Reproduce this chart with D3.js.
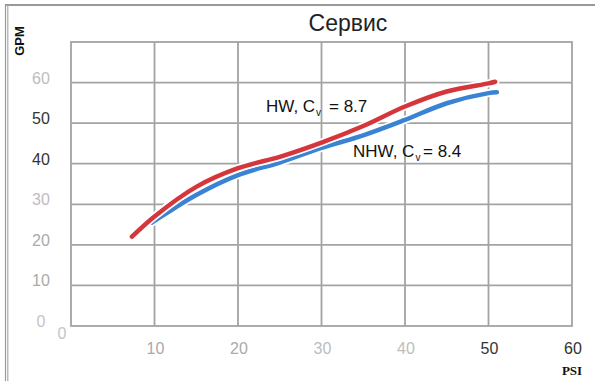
<!DOCTYPE html>
<html><head><meta charset="utf-8">
<script src="https://cdn.jsdelivr.net/npm/d3@7/dist/d3.min.js"></script>
<style>body{margin:0;background:#fff}svg{display:block}</style>
</head><body>
<svg id="c" width="595" height="381"></svg>
<script>
const title = "Сервис";
const xTicks = [0,10,20,30,40,50,60];
const yTicks = [0,10,20,30,40,50,60];
const xTickColors = ["#c4c4c4","#aaaaaa","#aaaaaa","#bdbdbd","#bdbdbd","#333333","#333333"];
const yTickColors = ["#c4c4c4","#aaaaaa","#aaaaaa","#bdbdbd","#333333","#333333","#bdbdbd"];
const hwPsi = [7.3, 10, 15, 20, 25, 30, 35, 40, 45, 50, 50.8];
const hwGpm = [22, 27, 34.3, 38.9, 41.7, 45.2, 49.3, 54.1, 57.8, 59.8, 60.2];
const nhwPsi = [9.7, 10, 15, 20, 25, 30, 35, 40, 45, 50, 51];
const nhwGpm = [25.5, 25.9, 32.3, 37.2, 40.3, 43.9, 47.0, 50.8, 54.9, 57.4, 57.6];

const svg = d3.select("#c");
const x = d3.scaleLinear().domain([0,60]).range([71,572]);
const y = d3.scaleLinear().domain([0,70]).range([326,42]);
const font = "'Liberation Sans', Arial, sans-serif";

// outer frame
svg.append("line").attr("x1",5).attr("x2",595).attr("y1",5).attr("y2",5).attr("stroke","#999").attr("stroke-width",2);
svg.append("line").attr("x1",5.5).attr("x2",5.5).attr("y1",5).attr("y2",381).attr("stroke","#999").attr("stroke-width",1.2);
svg.append("line").attr("x1",7.8).attr("x2",7.8).attr("y1",5).attr("y2",381).attr("stroke","#aaa").attr("stroke-width",1.2);

// grid
const g = svg.append("g");
g.selectAll("line.v").data(xTicks.slice(1,6)).join("line")
  .attr("x1",d=>x(d)).attr("x2",d=>x(d)).attr("y1",y(70)).attr("y2",y(0))
  .attr("stroke","#a3a3a3").attr("stroke-width",1.8);
g.selectAll("line.h").data(yTicks.slice(1)).join("line")
  .attr("x1",x(0)).attr("x2",x(60)).attr("y1",d=>y(d)).attr("y2",d=>y(d))
  .attr("stroke","#a3a3a3").attr("stroke-width",1.8);
g.append("rect").attr("x",x(0)).attr("y",y(70)).attr("width",x(60)-x(0)).attr("height",y(0)-y(70))
  .attr("fill","none").attr("stroke","#a3a3a3").attr("stroke-width",1.8);

// tick labels
svg.selectAll("text.yt").data(yTicks).join("text")
  .attr("x",41).attr("y",d=>y(d)+1).attr("text-anchor","middle")
  .attr("font-family",font).attr("font-size",16)
  .attr("fill",(d,i)=>yTickColors[i]).text(d=>d);
svg.selectAll("text.xt").data(xTicks).join("text")
  .attr("x",d=> d===0 ? x(d)-9 : x(d)+1).attr("y",d=> d===0 ? 339 : 354).attr("text-anchor","middle")
  .attr("font-family",font).attr("font-size",16)
  .attr("fill",(d,i)=>xTickColors[i]).text(d=>d);

// axis titles
svg.append("text").attr("x",572).attr("y",375).attr("text-anchor","middle")
  .attr("font-family","'Liberation Serif','DejaVu Serif',serif").attr("font-weight","bold").attr("font-size",13)
  .attr("fill","#111").text("PSI");
svg.append("text").attr("transform","translate(24,41) rotate(-90)").attr("text-anchor","middle")
  .attr("font-family",font).attr("font-weight","bold").attr("font-size",13)
  .attr("fill","#111").text("GPM");

// title
svg.append("text").attr("x",348).attr("y",31).attr("text-anchor","middle")
  .attr("font-family",font).attr("font-size",23).attr("fill","#222").text(title);

// curves
const line = d3.line().x(d=>x(d[0])).y(d=>y(d[1])).curve(d3.curveCatmullRom.alpha(0.5));
const hw = hwPsi.map((p,i)=>[p,hwGpm[i]]);
const nhw = nhwPsi.map((p,i)=>[p,nhwGpm[i]]);
[[nhw,"#3a82d2"],[hw,"#d4363b"]].forEach(([data,col])=>{
  svg.append("path").attr("d",line(data)).attr("fill","none").attr("stroke","#fff").attr("stroke-width",8).attr("stroke-linecap","round");
  svg.append("path").attr("d",line(data)).attr("fill","none").attr("stroke",col).attr("stroke-width",4.5).attr("stroke-linecap","round");
});

// annotations
function note(x0, yb, label, val, xEq){
  const t = svg.append("text").attr("x",x0).attr("y",yb).attr("font-family",font).attr("font-size",17).attr("fill","#111");
  t.append("tspan").text(label);
  t.append("tspan").attr("font-size",10).attr("dy",4).attr("dx",1).text("v");
  t.append("tspan").attr("x",xEq).attr("dy",-4).text(val);
}
note(266, 111.5, "HW, C", "= 8.7", 329);
note(353, 157, "NHW, C", "= 8.4", 423);
</script>
</body></html>
